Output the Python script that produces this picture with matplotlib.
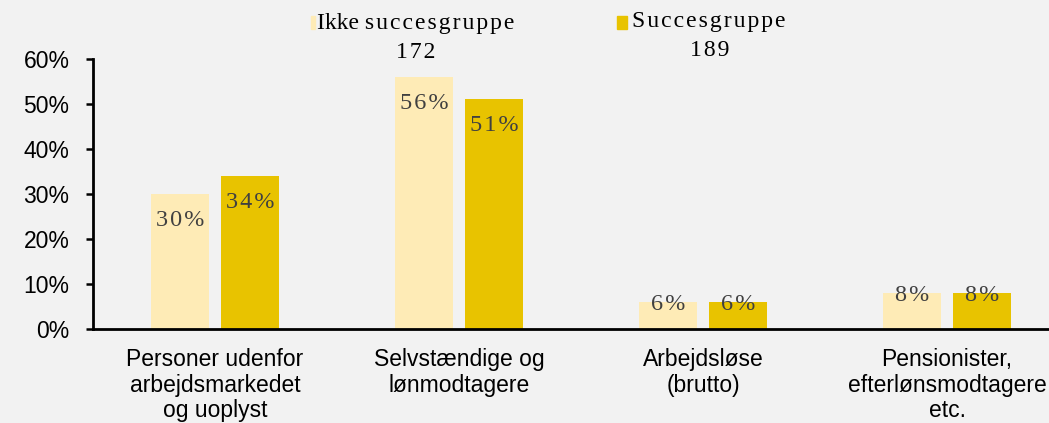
import matplotlib
matplotlib.use("Agg")
import matplotlib.pyplot as plt
import numpy as np
from matplotlib.patches import Rectangle

categories = ["Personer udenfor\narbejdsmarkedet\nog uoplyst",
              "Selvstændige og\nlønmodtagere",
              "Arbejdsløse\n(brutto)",
              "Pensionister,\nefterlønsmodtagere\netc."]
ikke_succes = [30, 56, 6, 8]
succes = [34, 51, 6, 8]
series_names = ["Ikke succesgruppe", "Succesgruppe"]
series_n = [172, 189]
yticks = [0, 10, 20, 30, 40, 50, 60]

BG = "#f2f2f2"
LIGHT = "#feebb6"
DARK = "#e8c300"
SERIF = ["Liberation Serif", "DejaVu Serif"]
SANS = ["Liberation Sans", "DejaVu Sans"]
HAIR = "\u200a"


def spaced(s):
    return HAIR.join(s)


fig = plt.figure(figsize=(10.49, 4.23), dpi=100, facecolor=BG)
ax = fig.add_axes([93 / 1049, 94 / 423, 976 / 1049, 270 / 423])
ax.set_facecolor(BG)

x = np.arange(len(categories))
w = 0.238
off = 0.143
b1 = ax.bar(x - off, ikke_succes, w, color=LIGHT, zorder=2)
b2 = ax.bar(x + off, succes, w, color=DARK, zorder=2)

for bars, vals in ((b1, ikke_succes), (b2, succes)):
    for rect, v in zip(bars, vals):
        ly = v - 5.8 if v > 20 else v - 0.5
        ax.text(rect.get_x() + rect.get_width() / 2, ly, spaced(f"{v}%"),
                ha="center", va="center", fontsize=17.5, color="#404040",
                family=SERIF, zorder=3)

ax.set_xlim(-0.5, 3.5)
ax.set_ylim(0, 60)
ax.set_yticks(yticks)
ax.set_yticklabels([f"{t}%" for t in yticks], family=SANS, fontsize=16.5)
ax.set_xticks(x)
ax.set_xticklabels(categories, family=SANS, fontsize=16.5, linespacing=1.12)
ax.tick_params(axis="x", length=0, pad=14)
ax.tick_params(axis="y", direction="out", length=5, width=1.8, pad=12)
for s in ("top", "right"):
    ax.spines[s].set_visible(False)
for s in ("left", "bottom"):
    ax.spines[s].set_linewidth(2)
    ax.spines[s].set_color("black")

# legend with group sizes
fig.patches.append(Rectangle((311 / 1049, 1 - 29 / 423), 4 / 1049, 13 / 423,
                             transform=fig.transFigure, color=LIGHT))
fig.patches.append(Rectangle((617 / 1049, 1 - 29 / 423), 10 / 1049, 13 / 423,
                             transform=fig.transFigure, color=DARK))
fig.text(416 / 1049, 1 - 23 / 423, "Ikke " + spaced("succesgruppe"),
         ha="center", va="center", fontsize=17, family=SERIF, color="black")
fig.text(416 / 1049, 1 - 52 / 423, spaced(str(series_n[0])),
         ha="center", va="center", fontsize=17, family=SERIF, color="black")
fig.text(709 / 1049, 1 - 21 / 423, spaced(series_names[1]),
         ha="center", va="center", fontsize=17, family=SERIF, color="black")
fig.text(710 / 1049, 1 - 50 / 423, spaced(str(series_n[1])),
         ha="center", va="center", fontsize=17, family=SERIF, color="black")

fig.savefig("out.png", dpi=100, facecolor=BG)
